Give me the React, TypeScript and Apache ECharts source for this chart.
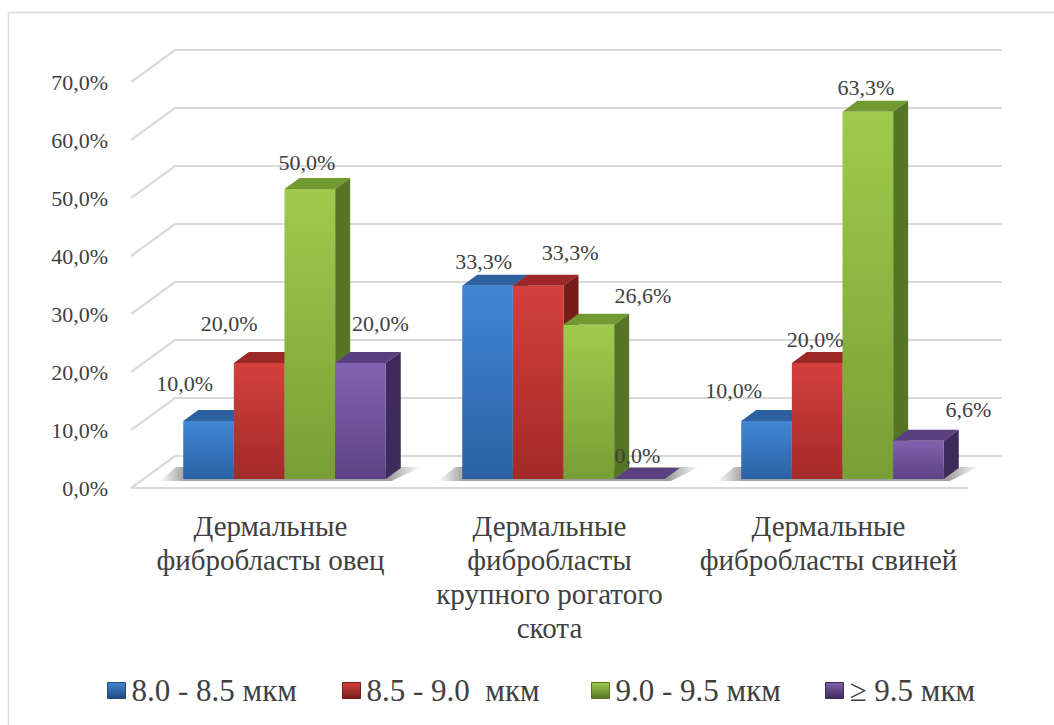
import React, { useEffect, useRef } from "react";
import * as echarts from "echarts";

// Categories (cell types) and the share of cells in each size class, %
const categories = [
  "Дермальные\nфибробласты овец",
  "Дермальные\nфибробласты\nкрупного рогатого\nскота",
  "Дермальные\nфибробласты свиней",
];
const seriesNames = ["8.0 - 8.5 мкм", "8.5 - 9.0  мкм", "9.0 - 9.5 мкм", "≥ 9.5 мкм"];
const size80to85 = [10.0, 33.3, 10.0];
const size85to90 = [20.0, 33.3, 20.0];
const size90to95 = [50.0, 26.6, 63.3];
const size95up = [20.0, 0.0, 6.6];
const yTicks = [0, 10, 20, 30, 40, 50, 60, 70];

const seriesValues = [size80to85, size85to90, size90to95, size95up];

// Colours of each bar: front gradient (top, bottom), top face, side face
const palette = [
  { top: "#4086d4", bottom: "#2b62a4", cap: "#2d619f", side: "#22497f" },
  { top: "#d4403d", bottom: "#a32a28", cap: "#9c2927", side: "#761d1c" },
  { top: "#9fcb4c", bottom: "#789e36", cap: "#729a33", side: "#567526" },
  { top: "#8262ae", bottom: "#5d4285", cap: "#5a4080", side: "#3e2b5b" },
];

// Placement of the value labels relative to the top centre of each bar [dx, dy]
const labelOffsets = [
  [[-24, -38], [-4, -24], [-33, -31]],
  [[-30, -40], [32, -33], [-2, -24]],
  [[-3, -27], [54, -29], [-2, -24]],
  [[20, -40], [-2, -24], [50, -31]],
];

const FONT = "Liberation Serif";
const TEXT = "#404040";
const WALL = "#d9d9d9";
const DEPTH = [44, -32]; // wall depth (front edge to back wall)
const BAR_DEPTH = [15, -11]; // depth of each bar
const BAR_SHIFT = [14, -9]; // bars stand a little behind the front edge
const BAR_SHARE = 0.1815; // bar width as share of a category band

const fmt = (v: number) => v.toFixed(1).replace(".", ",") + "%";

export default function App() {
  const ref = useRef<HTMLDivElement>(null);

  useEffect(() => {
    if (!ref.current) return;
    const chart = echarts.init(ref.current, null, { renderer: "svg" });

    const wallSeries = {
      type: "custom",
      z: 1,
      silent: true,
      data: yTicks.map((v) => [0, v]),
      renderItem: (params: any, api: any) => {
        const cs = params.coordSys;
        const v = api.value(1);
        const y = api.coord([0, v])[1];
        const x0 = cs.x;
        const children: any[] = [
          {
            type: "polyline",
            shape: {
              points: [
                [x0, y],
                [x0 + DEPTH[0], y + DEPTH[1]],
                [x0 + cs.width + DEPTH[0] - 10, y + DEPTH[1]],
              ],
            },
            style: { stroke: WALL, lineWidth: 2.2, fill: null },
          },
        ];
        if (v === 0) {
          children.push({
            type: "line",
            shape: { x1: x0, y1: y, x2: x0 + cs.width, y2: y },
            style: { stroke: WALL, lineWidth: 2.2 },
          });
        }
        return { type: "group", children };
      },
    };

    const shadowSeries = {
      type: "custom",
      z: 1,
      silent: true,
      data: categories.map((_, i) => [i, 0]),
      renderItem: (params: any, api: any) => {
        const i = api.value(0);
        const c = api.coord([i, 0]);
        const band = api.size([1, 0])[0];
        const bw = band * BAR_SHARE;
        const L = c[0] + BAR_SHIFT[0] - 2 * bw;
        const R = L + 4 * bw;
        const y0 = c[1] + BAR_SHIFT[1];
        return {
          type: "polygon",
          shape: {
            points: [
              [L - 24, y0 + 2],
              [R + 6, y0 + 2],
              [R + BAR_DEPTH[0] + 20, y0 + BAR_DEPTH[1] - 1],
              [L + BAR_DEPTH[0] - 22, y0 + BAR_DEPTH[1] - 1],
            ],
          },
          style: {
            fill: new echarts.graphic.LinearGradient(0, 0, 1, 0, [
              { offset: 0, color: "rgba(80,80,80,0)" },
              { offset: 0.1, color: "rgba(80,80,80,0.55)" },
              { offset: 0.88, color: "rgba(80,80,80,0.55)" },
              { offset: 1, color: "rgba(80,80,80,0)" },
            ]),
          },
        };
      },
    };

    const barSeries = seriesValues.map((vals, k) => {
      const col = palette[k];
      return {
        type: "custom",
        name: seriesNames[k],
        z: 2,
        itemStyle: { color: col.top },
        data: vals.map((v, i) => [i, v]),
        renderItem: (params: any, api: any) => {
          const i = api.value(0);
          const v = api.value(1);
          const c = api.coord([i, v]);
          const b = api.coord([i, 0]);
          const band = api.size([1, 0])[0];
          const bw = band * BAR_SHARE;
          const x0 = b[0] + BAR_SHIFT[0] - 2 * bw + k * bw;
          const x1 = x0 + bw;
          const top = c[1] + BAR_SHIFT[1];
          const bot = b[1] + BAR_SHIFT[1];
          const [dx, dy] = BAR_DEPTH;
          const off = labelOffsets[k][i];
          const z2 = 10 + k * 3;
          return {
            type: "group",
            children: [
              {
                type: "polygon",
                z2,
                shape: { points: [[x0, top], [x0 + dx, top + dy], [x1 + dx, top + dy], [x1, top]] },
                style: { fill: col.cap },
              },
              {
                type: "polygon",
                z2,
                shape: { points: [[x1, top], [x1 + dx, top + dy], [x1 + dx, bot + dy], [x1, bot]] },
                style: { fill: col.side },
              },
              {
                type: "rect",
                z2: z2 + 1,
                shape: { x: x0, y: top, width: bw, height: Math.max(bot - top, 0) },
                style: {
                  fill: new echarts.graphic.LinearGradient(0, 0, 0, 1, [
                    { offset: 0, color: col.top },
                    { offset: 1, color: col.bottom },
                  ]),
                },
              },
              {
                type: "text",
                z2: 100,
                style: {
                  text: fmt(v),
                  x: (x0 + x1) / 2 + off[0],
                  y: top + off[1],
                  align: "center",
                  verticalAlign: "middle",
                  fill: TEXT,
                  fontFamily: FONT,
                  fontSize: 22,
                },
              },
            ],
          };
        },
      };
    });

    const legendLefts = [107, 342, 591, 825];
    const legends = seriesNames.map((name, k) => ({
      left: legendLefts[k],
      top: 675,
      itemWidth: 18,
      itemHeight: 16,
      itemGap: 0,
      icon: "rect",
      selectedMode: false,
      padding: 0,
      data: [
        {
          name,
          itemStyle: {
            color: new echarts.graphic.LinearGradient(0, 0, 0, 1, [
              { offset: 0, color: palette[k].top },
              { offset: 1, color: palette[k].side },
            ]),
            borderColor: palette[k].side,
            borderWidth: 1,
          },
        },
      ],
      textStyle: {
        fontFamily: FONT,
        fontSize: 31,
        color: TEXT,
        lineHeight: 18,
        padding: [2, 0, 0, 1],
      },
    }));

    chart.setOption({
      animation: false,
      backgroundColor: "#ffffff",
      textStyle: { fontFamily: FONT },
      graphic: [
        {
          type: "rect",
          silent: true,
          shape: { x: 8.5, y: 12.5, width: 1100, height: 800 },
          style: { fill: "none", stroke: "#d9d9d9", lineWidth: 1.5 },
        },
      ],
      legend: legends,
      grid: { left: 131, right: 86, top: 82, bottom: 237, containLabel: false },
      xAxis: {
        type: "category",
        data: categories,
        axisLine: { show: false },
        axisTick: { show: false },
        splitLine: { show: false },
        axisLabel: {
          interval: 0,
          margin: 21,
          fontFamily: FONT,
          fontSize: 29,
          lineHeight: 34,
          color: TEXT,
          align: "center",
        },
      },
      yAxis: {
        type: "value",
        min: 0,
        max: 70,
        interval: 10,
        axisLine: { show: false },
        axisTick: { show: false },
        splitLine: { show: false },
        axisLabel: {
          margin: 23,
          fontFamily: FONT,
          fontSize: 22,
          color: TEXT,
          formatter: (v: number) => fmt(v),
        },
      },
      series: [wallSeries, shadowSeries, ...barSeries],
    });

    return () => chart.dispose();
  }, []);

  return (
    <div
      ref={ref}
      style={{ position: "absolute", left: 0, top: 0, width: 1054, height: 725 }}
    />
  );
}
